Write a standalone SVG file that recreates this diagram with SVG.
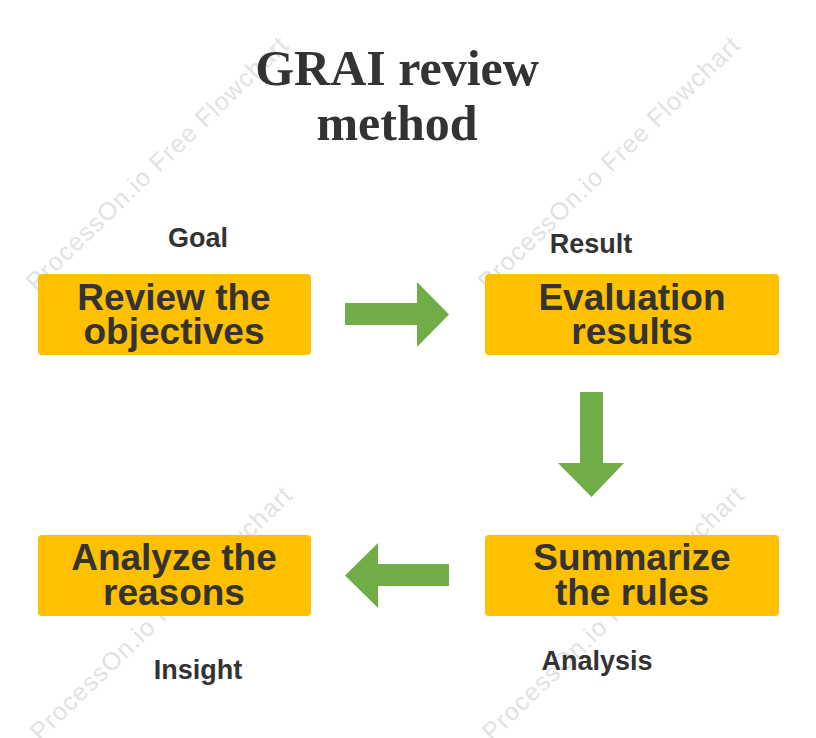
<svg xmlns="http://www.w3.org/2000/svg" width="816" height="738" viewBox="0 0 816 738">
  <style>
    .wm { font-family: "Liberation Sans", Arial, sans-serif; font-size: 25px; fill: #e2e2e2; }
    .title { font-family: "Liberation Serif", "Times New Roman", serif; font-size: 50px; font-weight: bold; fill: #333333; text-anchor: middle; }
    .box { fill: #FFC000; }
    .btxt { font-family: "Liberation Sans", Arial, sans-serif; font-size: 37px; font-weight: bold; fill: #333333; text-anchor: middle; }
    .lbl { font-family: "Liberation Sans", Arial, sans-serif; font-size: 27px; font-weight: bold; fill: #333333; text-anchor: middle; }
    .arrow { fill: #70AD47; }
  </style>
  <rect x="0" y="0" width="816" height="738" fill="#ffffff"/>

  <g id="watermarks">
    <text class="wm" transform="translate(36,292) rotate(-44)" textLength="352" lengthAdjust="spacing">ProcessOn.io Free Flowchart</text>
    <text class="wm" transform="translate(488,292) rotate(-44)" textLength="352" lengthAdjust="spacing">ProcessOn.io Free Flowchart</text>
    <text class="wm" transform="translate(40,742) rotate(-44)" textLength="352" lengthAdjust="spacing">ProcessOn.io Free Flowchart</text>
    <text class="wm" transform="translate(492,742) rotate(-44)" textLength="352" lengthAdjust="spacing">ProcessOn.io Free Flowchart</text>
  </g>

  <g id="title">
    <text class="title"><tspan x="397" y="85">GRAI review</tspan><tspan x="397" y="140">method</tspan></text>
  </g>

  <g id="node-review">
    <rect class="box" x="38" y="274" width="273" height="81" rx="4"/>
    <text class="btxt"><tspan x="174" y="310">Review the</tspan><tspan x="174" y="344">objectives</tspan></text>
  </g>
  <g id="label-goal">
    <text class="lbl" x="198" y="247">Goal</text>
  </g>

  <g id="node-evaluation">
    <rect class="box" x="485" y="274" width="294" height="81" rx="4"/>
    <text class="btxt"><tspan x="632" y="310">Evaluation</tspan><tspan x="632" y="344">results</tspan></text>
  </g>
  <g id="label-result">
    <text class="lbl" x="591" y="253">Result</text>
  </g>

  <g id="node-summarize">
    <rect class="box" x="485" y="535" width="294" height="81" rx="4"/>
    <text class="btxt"><tspan x="632" y="570">Summarize</tspan><tspan x="632" y="605">the rules</tspan></text>
  </g>
  <g id="label-analysis">
    <text class="lbl" x="597" y="670">Analysis</text>
  </g>

  <g id="node-analyze">
    <rect class="box" x="38" y="535" width="273" height="81" rx="4"/>
    <text class="btxt"><tspan x="174" y="570">Analyze the</tspan><tspan x="174" y="605">reasons</tspan></text>
  </g>
  <g id="label-insight">
    <text class="lbl" x="198" y="679">Insight</text>
  </g>

  <g id="connectors">
    <polygon class="arrow" points="345,303 417,303 417,282 449,314.5 417,347 417,325 345,325"/>
    <polygon class="arrow" points="580,392 603,392 603,463 624,463 591.5,497 558,463 580,463"/>
    <polygon class="arrow" points="449,564 449,586 378,586 378,608 345,575.5 378,543 378,564"/>
  </g>
</svg>
